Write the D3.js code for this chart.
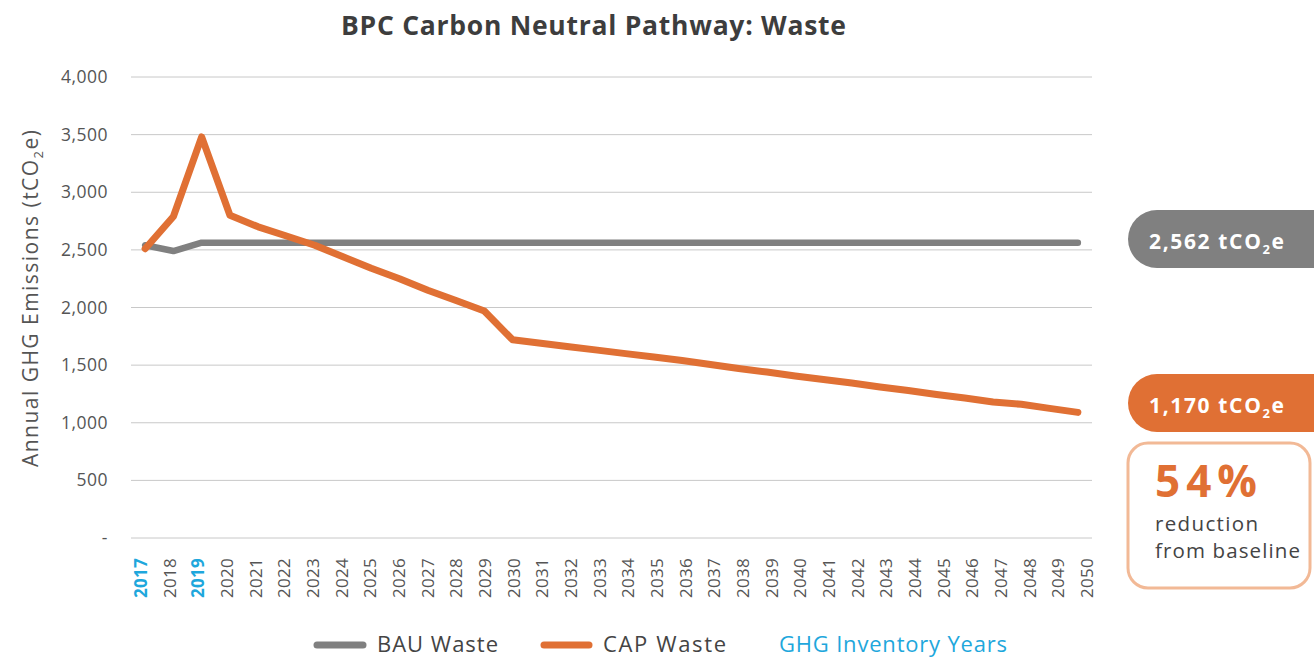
<!DOCTYPE html>
<html>
<head>
<meta charset="utf-8">
<script src="https://cdn.jsdelivr.net/npm/d3@7"></script>
<style>
  body { margin: 0; background: #fff; }
  text { font-family: "Open Sans", Lato, sans-serif; }
</style>
</head>
<body>
<div id="chart"></div>
<script>
const years = d3.range(2017, 2051);
const inventoryYears = [2017, 2019];
const bauWaste = [2540, 2490, 2562, 2562, 2562, 2562, 2562, 2562, 2562, 2562, 2562, 2562, 2562, 2562,
  2562, 2562, 2562, 2562, 2562, 2562, 2562, 2562, 2562, 2562, 2562, 2562, 2562, 2562, 2562, 2562,
  2562, 2562, 2562, 2562];
const capWaste = [2510, 2790, 3480, 2800, 2700, 2620, 2540, 2440, 2340, 2250, 2150, 2060, 1970, 1720,
  1690, 1660, 1630, 1600, 1570, 1540, 1505, 1470, 1440, 1405, 1375, 1345, 1310, 1280, 1245, 1215,
  1180, 1160, 1125, 1090];
const yTicks = [0, 500, 1000, 1500, 2000, 2500, 3000, 3500, 4000];

const width = 1314, height = 660;
const grey = "#808080", orange = "#e07034", blue = "#1ea7dc", txt = "#555";

const svg = d3.select("#chart").append("svg")
    .attr("width", width)
    .attr("height", height);

let x = d3.scaleBand().domain(years).range([131, 1092]);
// tick labels sit on a slightly wider spacing than the points
let xLab = d3.scaleBand().domain(years).range([126.5, 1101.5]);
let y = d3.scaleLinear().domain([0, 4000]).range([538, 77]);
let cx = d => x(d) + x.bandwidth() / 2;

// title
svg.append("text")
    .attr("x", 341).attr("y", 35)
    .attr("textLength", 505).attr("lengthAdjust", "spacing")
    .attr("font-size", 26.5).attr("font-weight", "bold")
    .attr("fill", "#3d3d3d")
    .text("BPC Carbon Neutral Pathway: Waste");

// grid + y labels
svg.append("g").selectAll("line")
    .data(yTicks).enter().append("line")
    .attr("x1", 131).attr("x2", 1092)
    .attr("y1", d => y(d)).attr("y2", d => y(d))
    .attr("stroke", "#c8c8c8").attr("stroke-width", 1);

svg.append("g").selectAll("text")
    .data(yTicks).enter().append("text")
    .attr("x", 108).attr("y", d => y(d) + 6)
    .attr("text-anchor", "end")
    .attr("font-size", 17.5).attr("letter-spacing", 0.5).attr("fill", txt)
    .text(d => d === 0 ? "-" : d3.format(",")(d));

// y title
let yt = svg.append("text")
    .attr("transform", "translate(38,467) rotate(-90)")
    .attr("textLength", 337).attr("lengthAdjust", "spacing")
    .attr("font-size", 21).attr("fill", txt);
yt.append("tspan").text("Annual GHG Emissions (tCO");
yt.append("tspan").attr("font-size", 13).attr("dy", 5).text("2");
yt.append("tspan").attr("dy", -5).text("e)");

// x labels
svg.append("g").selectAll("text")
    .data(years).enter().append("text")
    .attr("transform", d => `translate(${xLab(d) + xLab.bandwidth() / 2 + 6},558) rotate(-90)`)
    .attr("text-anchor", "end")
    .attr("font-size", 17).attr("letter-spacing", 0.3)
    .attr("font-weight", d => inventoryYears.includes(d) ? "bold" : "normal")
    .attr("fill", d => inventoryYears.includes(d) ? blue : txt)
    .text(d => d);

// lines
let line = d3.line().x((d, i) => cx(years[i])).y(d => y(d));
svg.append("path").datum(bauWaste)
    .attr("d", line).attr("fill", "none")
    .attr("stroke", grey).attr("stroke-width", 6.5)
    .attr("stroke-linecap", "round").attr("stroke-linejoin", "round");
svg.append("path").datum(capWaste)
    .attr("d", line).attr("fill", "none")
    .attr("stroke", orange).attr("stroke-width", 7)
    .attr("stroke-linecap", "round").attr("stroke-linejoin", "round");

// end pills
function pill(top, color, label) {
    svg.append("rect")
        .attr("x", 1128).attr("y", top).attr("width", 215).attr("height", 58)
        .attr("rx", 29).attr("fill", color);
    let t = svg.append("text")
        .attr("x", 1149).attr("y", top + 39)
        .attr("textLength", 135).attr("lengthAdjust", "spacing")
        .attr("font-size", 21).attr("font-weight", "bold").attr("fill", "#fff");
    t.append("tspan").text(label + " tCO");
    t.append("tspan").attr("font-size", 13).attr("dy", 5).text("2");
    t.append("tspan").attr("dy", -5).text("e");
}
pill(210, grey, "2,562");
pill(374, orange, "1,170");

// reduction box
svg.append("rect")
    .attr("x", 1128).attr("y", 443).attr("width", 182).attr("height", 145)
    .attr("rx", 20).attr("fill", "none")
    .attr("stroke", "#f2b996").attr("stroke-width", 3);
svg.append("text")
    .attr("x", 1155).attr("y", 497)
    .attr("textLength", 102).attr("lengthAdjust", "spacing")
    .attr("font-size", 44).attr("font-weight", "bold").attr("fill", orange)
    .text("54%");
svg.append("text")
    .attr("x", 1155).attr("y", 531)
    .attr("textLength", 103).attr("lengthAdjust", "spacing")
    .attr("font-size", 20.5).attr("fill", "#444")
    .text("reduction");
svg.append("text")
    .attr("x", 1155).attr("y", 558)
    .attr("textLength", 145).attr("lengthAdjust", "spacing")
    .attr("font-size", 20.5).attr("fill", "#444")
    .text("from baseline");

// legend
let leg = svg.append("g");
leg.append("line").attr("x1", 317).attr("x2", 363).attr("y1", 645).attr("y2", 645)
    .attr("stroke", grey).attr("stroke-width", 7).attr("stroke-linecap", "round");
leg.append("text").attr("x", 377).attr("y", 652)
    .attr("textLength", 121).attr("lengthAdjust", "spacing")
    .attr("font-size", 22).attr("fill", "#444").text("BAU Waste");
leg.append("line").attr("x1", 544).attr("x2", 589).attr("y1", 645).attr("y2", 645)
    .attr("stroke", orange).attr("stroke-width", 7).attr("stroke-linecap", "round");
leg.append("text").attr("x", 603).attr("y", 652)
    .attr("textLength", 123).attr("lengthAdjust", "spacing")
    .attr("font-size", 22).attr("fill", "#444").text("CAP Waste");
leg.append("text").attr("x", 779).attr("y", 652)
    .attr("textLength", 228).attr("lengthAdjust", "spacing")
    .attr("font-size", 22).attr("fill", blue).text("GHG Inventory Years");
</script>
</body>
</html>
